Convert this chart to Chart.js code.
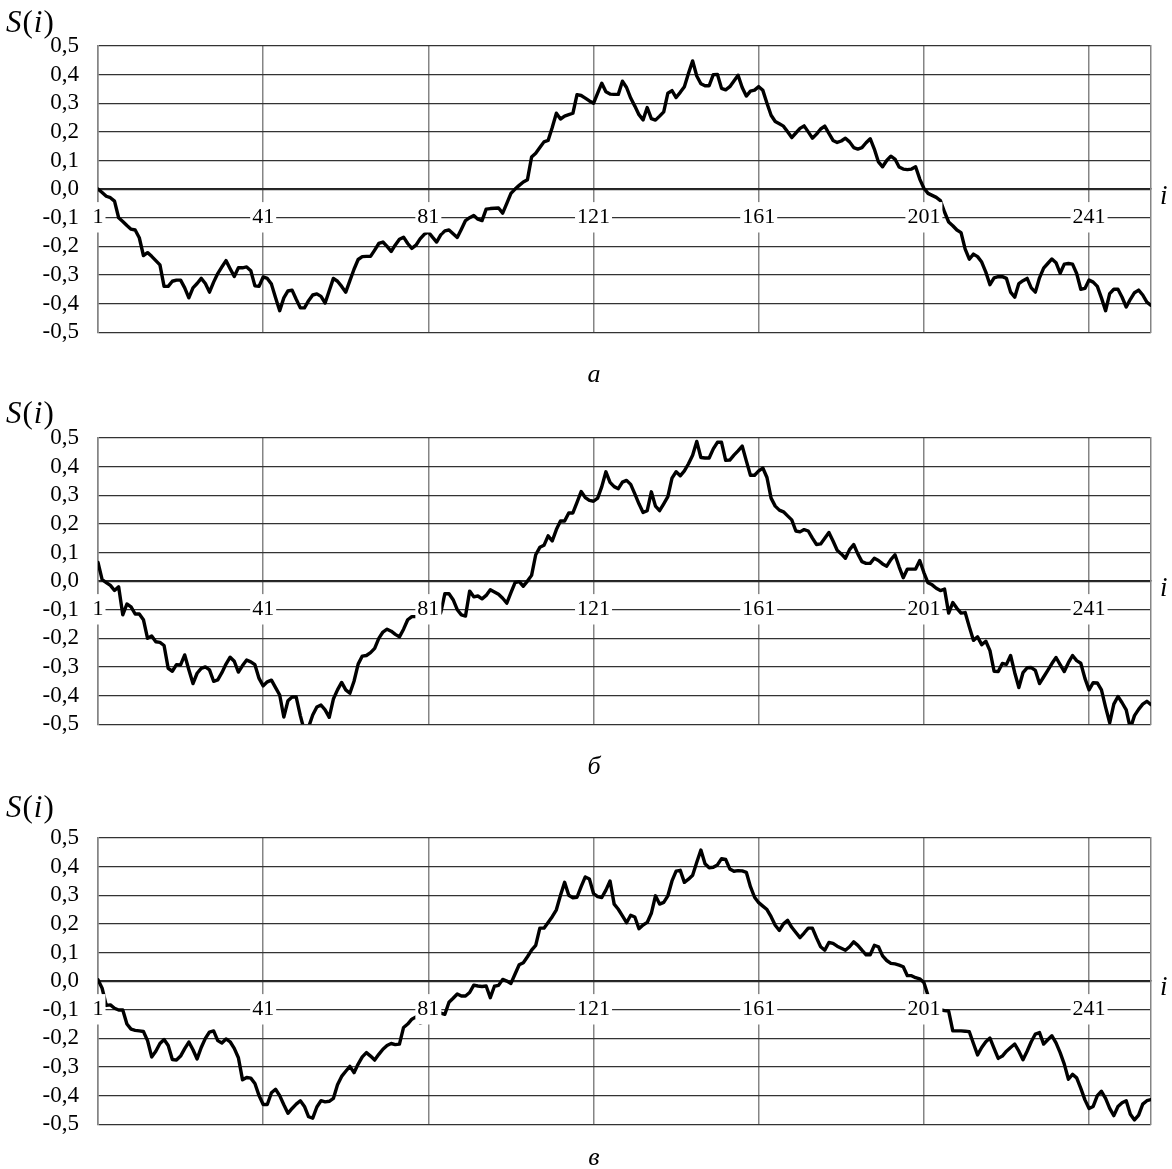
<!DOCTYPE html>
<html>
<head>
<meta charset="utf-8">
<script src="https://cdn.jsdelivr.net/npm/chart.js@4.4.1/dist/chart.umd.min.js"></script>
<style>
  body { margin: 0; background: #fff; width: 1172px; height: 1169px; position: relative; overflow: hidden;
         font-family: 'Liberation Serif', 'Times New Roman', serif; }
  canvas { position: absolute; left: 0; }
  .lbl { position: absolute; line-height: 1; white-space: nowrap; color: #000; }
  .sym { font-size: 31px; letter-spacing: 1px; }
  .ax { font-size: 27px; font-style: italic; }
  .cap { font-size: 26px; font-style: italic; width: 40px; text-align: center; }
</style>
</head>
<body>
<canvas id="chartA" width="1172" height="365" style="top:0px"></canvas>
<canvas id="chartB" width="1172" height="365" style="top:392px"></canvas>
<canvas id="chartC" width="1172" height="365" style="top:792px"></canvas>

<div class="lbl sym" style="left:6px;top:6px"><i>S</i>(<i>i</i>)</div>
<div class="lbl sym" style="left:6px;top:397px"><i>S</i>(<i>i</i>)</div>
<div class="lbl sym" style="left:6px;top:791px"><i>S</i>(<i>i</i>)</div>

<div class="lbl ax" style="left:1160px;top:182px">i</div>
<div class="lbl ax" style="left:1160px;top:574px">i</div>
<div class="lbl ax" style="left:1160px;top:973px">i</div>

<div class="lbl cap" style="left:574px;top:361px">а</div>
<div class="lbl cap" style="left:574px;top:753px">б</div>
<div class="lbl cap" style="left:574px;top:1144px">в</div>

<script>
// номера точек и подписи оси i
const pointCount = 256;
const xTickLabels = [1, 41, 81, 121, 161, 201, 241];
const yMin = -0.5;
const yMax = 0.5;

// S(i), рис. а
const seriesA = [
  0.000, -0.012, -0.025, -0.030, -0.042, -0.100, -0.113, -0.127, -0.140, -0.143,
  -0.170, -0.232, -0.222, -0.235, -0.250, -0.265, -0.340, -0.340, -0.322, -0.318,
  -0.318, -0.345, -0.380, -0.345, -0.330, -0.312, -0.330, -0.360, -0.325, -0.295,
  -0.272, -0.250, -0.278, -0.305, -0.275, -0.275, -0.272, -0.285, -0.338, -0.340,
  -0.307, -0.312, -0.332, -0.380, -0.425, -0.380, -0.356, -0.353, -0.385, -0.415,
  -0.415, -0.390, -0.370, -0.366, -0.375, -0.398, -0.355, -0.312, -0.322, -0.340,
  -0.360, -0.320, -0.280, -0.246, -0.236, -0.235, -0.235, -0.213, -0.190, -0.185,
  -0.200, -0.218, -0.195, -0.175, -0.168, -0.190, -0.207, -0.196, -0.174, -0.158,
  -0.150, -0.168, -0.185, -0.160, -0.146, -0.143, -0.156, -0.169, -0.140, -0.110,
  -0.100, -0.092, -0.105, -0.110, -0.070, -0.068, -0.067, -0.066, -0.084, -0.050,
  -0.015, 0.000, 0.013, 0.025, 0.033, 0.112, 0.125, 0.145, 0.165, 0.170,
  0.215, 0.265, 0.245, 0.255, 0.260, 0.265, 0.330, 0.327, 0.318, 0.308,
  0.300, 0.335, 0.370, 0.340, 0.332, 0.331, 0.331, 0.377, 0.355, 0.318,
  0.290, 0.260, 0.242, 0.285, 0.246, 0.241, 0.255, 0.270, 0.335, 0.344,
  0.320, 0.338, 0.358, 0.405, 0.448, 0.395, 0.368, 0.361, 0.361, 0.400,
  0.401, 0.352, 0.347, 0.358, 0.378, 0.398, 0.355, 0.325, 0.342, 0.346,
  0.358, 0.345, 0.300, 0.258, 0.236, 0.228, 0.220, 0.200, 0.180, 0.196,
  0.212, 0.221, 0.200, 0.178, 0.192, 0.210, 0.220, 0.195, 0.170, 0.163,
  0.168, 0.178, 0.165, 0.145, 0.140, 0.145, 0.162, 0.176, 0.140, 0.095,
  0.078, 0.100, 0.115, 0.105, 0.077, 0.070, 0.068, 0.070, 0.078, 0.035,
  0.003, -0.015, -0.022, -0.029, -0.040, -0.080, -0.115, -0.128, -0.143, -0.152,
  -0.210, -0.245, -0.227, -0.236, -0.255, -0.290, -0.334, -0.310, -0.306, -0.306,
  -0.312, -0.360, -0.378, -0.330, -0.320, -0.312, -0.345, -0.360, -0.310, -0.276,
  -0.260, -0.244, -0.257, -0.294, -0.262, -0.260, -0.262, -0.295, -0.350, -0.347,
  -0.318, -0.325, -0.340, -0.380, -0.425, -0.365, -0.350, -0.350, -0.378, -0.412,
  -0.385, -0.362, -0.353, -0.370, -0.395, -0.406
];

// S(i), рис. б
const seriesB = [
  0.065, 0.005, -0.005, -0.015, -0.033, -0.020, -0.118, -0.080, -0.090, -0.115,
  -0.115, -0.135, -0.200, -0.192, -0.212, -0.214, -0.225, -0.305, -0.315, -0.292,
  -0.293, -0.258, -0.310, -0.358, -0.322, -0.305, -0.300, -0.310, -0.350, -0.345,
  -0.320, -0.290, -0.266, -0.280, -0.318, -0.295, -0.276, -0.282, -0.292, -0.340,
  -0.366, -0.352, -0.346, -0.372, -0.398, -0.475, -0.418, -0.405, -0.405, -0.470,
  -0.525, -0.510, -0.468, -0.440, -0.433, -0.450, -0.476, -0.412, -0.380, -0.354,
  -0.380, -0.392, -0.350, -0.290, -0.262, -0.260, -0.250, -0.235, -0.200, -0.178,
  -0.168, -0.175, -0.186, -0.195, -0.168, -0.135, -0.124, -0.124, -0.125, -0.128,
  -0.130, -0.130, -0.132, -0.110, -0.044, -0.044, -0.065, -0.100, -0.118, -0.122,
  -0.035, -0.055, -0.052, -0.062, -0.050, -0.030, -0.038, -0.046, -0.060, -0.077,
  -0.040, -0.005, -0.002, -0.018, 0.000, 0.020, 0.092, 0.118, 0.125, 0.158,
  0.140, 0.180, 0.210, 0.210, 0.238, 0.238, 0.275, 0.313, 0.292, 0.282,
  0.279, 0.290, 0.330, 0.382, 0.345, 0.330, 0.323, 0.346, 0.352, 0.338,
  0.305, 0.270, 0.240, 0.246, 0.312, 0.262, 0.246, 0.270, 0.295, 0.360,
  0.382, 0.368, 0.385, 0.410, 0.440, 0.488, 0.432, 0.430, 0.430, 0.462,
  0.485, 0.485, 0.422, 0.423, 0.440, 0.455, 0.472, 0.420, 0.370, 0.370,
  0.385, 0.395, 0.362, 0.290, 0.262, 0.248, 0.242, 0.228, 0.214, 0.175,
  0.172, 0.180, 0.175, 0.150, 0.128, 0.130, 0.150, 0.170, 0.140, 0.108,
  0.095, 0.080, 0.110, 0.128, 0.095, 0.068, 0.062, 0.062, 0.080, 0.072,
  0.060, 0.052, 0.075, 0.092, 0.050, 0.012, 0.042, 0.042, 0.042, 0.072,
  0.030, -0.006, -0.013, -0.025, -0.033, -0.028, -0.112, -0.075, -0.095, -0.112,
  -0.110, -0.160, -0.207, -0.195, -0.222, -0.210, -0.243, -0.315, -0.316, -0.288,
  -0.291, -0.260, -0.320, -0.372, -0.320, -0.303, -0.302, -0.312, -0.358, -0.335,
  -0.312, -0.288, -0.267, -0.292, -0.316, -0.285, -0.260, -0.278, -0.287, -0.340,
  -0.380, -0.355, -0.356, -0.380, -0.440, -0.495, -0.430, -0.403, -0.425, -0.450,
  -0.515, -0.470, -0.448, -0.430, -0.420, -0.432
];

// S(i), рис. в
const seriesC = [
  0.005, -0.025, -0.085, -0.083, -0.095, -0.101, -0.101, -0.150, -0.168, -0.172,
  -0.174, -0.176, -0.208, -0.265, -0.245, -0.218, -0.204, -0.225, -0.274, -0.276,
  -0.262, -0.236, -0.213, -0.240, -0.272, -0.232, -0.200, -0.178, -0.174, -0.208,
  -0.216, -0.202, -0.212, -0.235, -0.268, -0.345, -0.337, -0.339, -0.358, -0.400,
  -0.431, -0.431, -0.390, -0.378, -0.400, -0.432, -0.462, -0.445, -0.430, -0.418,
  -0.438, -0.474, -0.479, -0.440, -0.418, -0.422, -0.420, -0.410, -0.362, -0.333,
  -0.315, -0.298, -0.320, -0.290, -0.265, -0.250, -0.262, -0.276, -0.256, -0.238,
  -0.225, -0.218, -0.222, -0.220, -0.162, -0.150, -0.133, -0.125, -0.147, -0.142,
  -0.135, -0.128, -0.120, -0.112, -0.116, -0.074, -0.060, -0.045, -0.052, -0.052,
  -0.040, -0.014, -0.017, -0.019, -0.017, -0.058, -0.018, -0.015, 0.006, 0.000,
  -0.008, 0.025, 0.057, 0.064, 0.085, 0.108, 0.125, 0.185, 0.185, 0.205,
  0.225, 0.249, 0.300, 0.345, 0.300, 0.291, 0.293, 0.330, 0.364, 0.357,
  0.306, 0.295, 0.292, 0.318, 0.350, 0.269, 0.251, 0.228, 0.204, 0.230,
  0.224, 0.183, 0.196, 0.205, 0.237, 0.298, 0.269, 0.275, 0.298, 0.350,
  0.384, 0.387, 0.345, 0.356, 0.370, 0.415, 0.458, 0.410, 0.396, 0.398,
  0.406, 0.428, 0.425, 0.392, 0.384, 0.386, 0.385, 0.380, 0.330, 0.293,
  0.274, 0.262, 0.250, 0.225, 0.195, 0.177, 0.200, 0.212, 0.188, 0.170,
  0.152, 0.168, 0.185, 0.185, 0.151, 0.120, 0.108, 0.135, 0.132, 0.122,
  0.115, 0.108, 0.120, 0.137, 0.125, 0.108, 0.092, 0.092, 0.125, 0.120,
  0.088, 0.072, 0.062, 0.060, 0.056, 0.050, 0.019, 0.019, 0.012, 0.008,
  -0.005, -0.050, -0.070, -0.090, -0.100, -0.103, -0.105, -0.174, -0.174, -0.174,
  -0.175, -0.177, -0.218, -0.258, -0.232, -0.212, -0.199, -0.235, -0.270, -0.262,
  -0.245, -0.232, -0.220, -0.245, -0.275, -0.245, -0.212, -0.185, -0.180, -0.220,
  -0.205, -0.191, -0.216, -0.250, -0.290, -0.343, -0.326, -0.338, -0.375, -0.415,
  -0.445, -0.438, -0.400, -0.385, -0.410, -0.445, -0.470, -0.438, -0.425, -0.418,
  -0.465, -0.485, -0.468, -0.430, -0.418, -0.414
];

const categories = [];
for (let k = 1; k <= pointCount; k++) categories.push(k);

function commaLabel(v) {
  if (Math.abs(v) < 1e-9) return '0,0';
  return v.toFixed(1).replace('.', ',');
}

function makeChart(id, values) {
  const ctx = document.getElementById(id).getContext('2d');
  return new Chart(ctx, {
    type: 'line',
    data: {
      labels: categories,
      datasets: [{
        data: values,
        borderColor: '#000',
        borderWidth: 3.4,
        pointRadius: 0,
        tension: 0,
        borderJoinStyle: 'round',
        borderCapStyle: 'round',
        clip: 0,
        fill: false
      }]
    },
    options: {
      responsive: false,
      animation: false,
      devicePixelRatio: 1,
      layout: { padding: { top: 46, right: 21, bottom: 17, left: 0 } },
      plugins: {
        legend: { display: false },
        tooltip: { enabled: false }
      },
      scales: {
        x: {
          type: 'category',
          position: { y: 0 },
          offset: false,
          afterBuildTicks: scale => {
            scale.ticks = scale.ticks.filter(t => xTickLabels.includes(categories[t.value]));
          },
          grid: { color: '#858585', lineWidth: 1.5, drawTicks: false },
          border: { color: '#222', width: 1.5 },
          ticks: {
            autoSkip: false,
            maxRotation: 0,
            padding: 15,
            z: 1,
            color: '#000',
            font: { family: 'Liberation Serif', size: 22 },
            showLabelBackdrop: true,
            backdropColor: '#fff',
            backdropPadding: 2
          }
        },
        y: {
          min: yMin,
          max: yMax,
          afterFit: s => { s.width = 98; },
          grid: { color: '#333', lineWidth: 1.2, drawTicks: false },
          border: { color: '#858585', width: 1.5 },
          ticks: {
            stepSize: 0.1,
            autoSkip: false,
            padding: 19,
            color: '#000',
            font: { family: 'Liberation Serif', size: 23 },
            callback: v => commaLabel(v)
          }
        },
        yRight: {
          position: 'right',
          min: yMin,
          max: yMax,
          afterFit: s => { s.width = 0; },
          grid: { display: false, drawTicks: false },
          border: { color: '#858585', width: 1.5 },
          ticks: { display: false }
        }
      }
    }
  });
}

makeChart('chartA', seriesA);
makeChart('chartB', seriesB);
makeChart('chartC', seriesC);
</script>
</body>
</html>
